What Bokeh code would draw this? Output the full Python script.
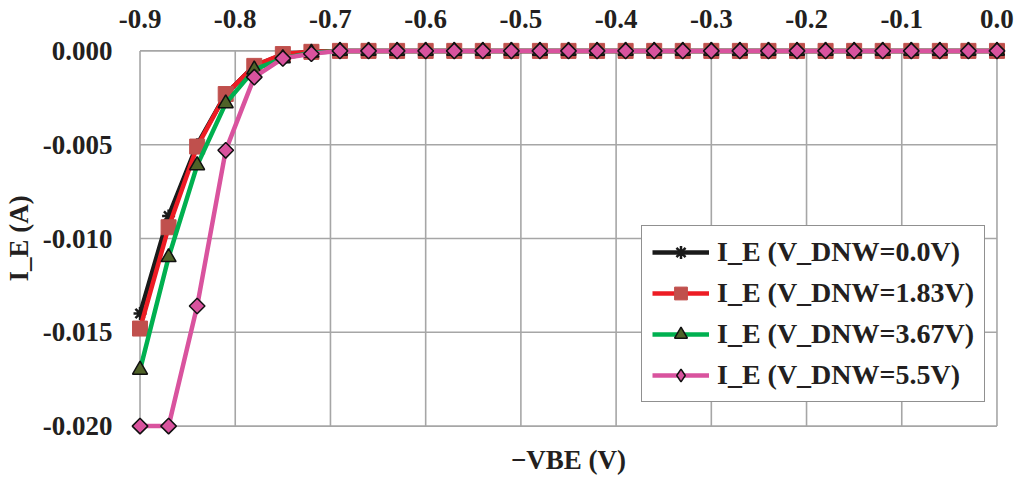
import numpy as np
from bokeh.plotting import figure
from bokeh.models import Range1d, FixedTicker, NumeralTickFormatter, Legend, LegendItem, Title
from bokeh.embed import file_html
from bokeh.resources import INLINE

# ---- data ----
vbe = [-0.90, -0.87, -0.84, -0.81, -0.78, -0.75, -0.72, -0.69, -0.66, -0.63,
       -0.60, -0.57, -0.54, -0.51, -0.48, -0.45, -0.42, -0.39, -0.36, -0.33,
       -0.30, -0.27, -0.24, -0.21, -0.18, -0.15, -0.12, -0.09, -0.06, -0.03, 0.00]
zeros_tail = [0.0] * 24
ie_0v0 = [-0.0140, -0.0088, -0.0050, -0.0023, -0.0008, -0.0002, -0.00005] + zeros_tail
ie_1v83 = [-0.0148, -0.0094, -0.0051, -0.0023, -0.0008, -0.00017, -0.00005] + zeros_tail
ie_3v67 = [-0.0170, -0.0110, -0.0061, -0.0028, -0.0010, -0.0004, -0.0001] + zeros_tail
ie_5v5 = [-0.0200, -0.0200, -0.0136, -0.0053, -0.0014, -0.0004, -0.00015] + zeros_tail

x_ticks = [-0.9, -0.8, -0.7, -0.6, -0.5, -0.4, -0.3, -0.2, -0.1, 0.0]
y_ticks = [-0.020, -0.015, -0.010, -0.005, 0.000]

labels = ["I_E (V_DNW=0.0V)", "I_E (V_DNW=1.83V)", "I_E (V_DNW=3.67V)", "I_E (V_DNW=5.5V)"]
x_title = "\u2212VBE (V)"
y_title = "I_E (A)"

# ---- style ----
FONT = "Liberation Serif"
FS = "27px"
TXT = "#231f20"
GRID = "#a6a6a6"
XPAD = 0.01
YPAD = 0.0005

p = figure(width=1021, height=485, output_backend="svg", toolbar_location=None,
           x_axis_location="above",
           x_range=Range1d(x_ticks[0] - XPAD, x_ticks[-1] + XPAD),
           y_range=Range1d(y_ticks[0] - YPAD, y_ticks[-1] + YPAD),
           min_border_left=128, min_border_right=15, min_border_top=41, min_border_bottom=50)
p.outline_line_color = None
p.xgrid.visible = False
p.ygrid.visible = False
p.background_fill_color = "white"

# grid lines limited to the axis extents
nx = len(x_ticks)
ny = len(y_ticks)
p.segment(x0=x_ticks, y0=[y_ticks[0]] * nx, x1=x_ticks, y1=[y_ticks[-1]] * nx,
          line_color=GRID, line_width=1.6)
p.segment(x0=[x_ticks[0]] * ny, y0=y_ticks, x1=[x_ticks[-1]] * ny, y1=y_ticks,
          line_color=GRID, line_width=1.6)

series = [
    (ie_0v0, "#1a1a1a", dict(marker="asterisk", size=13, line_color="#1a1a1a", line_width=2.5), None),
    (ie_1v83, "#ed1c24", dict(marker="square", size=15, fill_color="#c0504d", line_color="#c0504d", line_width=1), None),
    (ie_3v67, "#00b050", dict(marker="triangle", size=15, fill_color="#4f6228", line_color="#111111", line_width=1.5), None),
    (ie_5v5, "#d9539e", dict(marker="square", angle=np.pi / 4, size=11, fill_color="#d9539e", line_color="#111111", line_width=1.5),
     dict(marker="diamond", size=15, fill_color="#d9539e", line_color="#111111", line_width=1.5)),
]

items = []
for (ys, lc, mk, legmk), lab in zip(series, labels):
    ln = p.line(vbe, ys, line_color=lc, line_width=4.5)
    sc = p.scatter(vbe, ys, **mk)
    rends = [ln, sc]
    if legmk is not None:
        # legend glyphs are never rotated: use a hidden diamond renderer for the legend key
        rends = [ln, p.scatter(vbe, ys, visible=False, **legmk)]
    items.append(LegendItem(label=lab, renderers=rends))

legend = Legend(items=items, location=(511, 33), margin=0, padding=10,
                spacing=9, glyph_width=57, glyph_height=32, label_height=32,
                label_standoff=8,
                label_text_font=FONT, label_text_font_style="bold", label_text_font_size="28px",
                label_text_color=TXT, border_line_color="#222222", border_line_width=1.5,
                background_fill_color="white", background_fill_alpha=1.0)
p.add_layout(legend, "center")

# axes
xa = p.xaxis[0]
xa.ticker = FixedTicker(ticks=x_ticks)
xa.formatter = NumeralTickFormatter(format="0.0")
ya = p.yaxis[0]
ya.ticker = FixedTicker(ticks=y_ticks)
ya.formatter = NumeralTickFormatter(format="0.000")
ya.axis_label = y_title
ya.axis_label_standoff = 6
ya.axis_label_text_font = FONT
ya.axis_label_text_font_style = "bold"
ya.axis_label_text_font_size = FS
ya.axis_label_text_color = TXT
for ax, so in ((xa, 8), (ya, 12)):
    ax.axis_line_color = None
    ax.major_tick_line_color = None
    ax.minor_tick_line_color = None
    ax.major_label_standoff = so
    ax.major_label_text_font = FONT
    ax.major_label_text_font_style = "bold"
    ax.major_label_text_font_size = FS
    ax.major_label_text_color = TXT

p.add_layout(Title(text=x_title, align="center", text_font=FONT, text_font_style="bold",
                   text_font_size=FS, text_color=TXT, standoff=15), "below")

open("out.html", "w").write(file_html(p, INLINE))
